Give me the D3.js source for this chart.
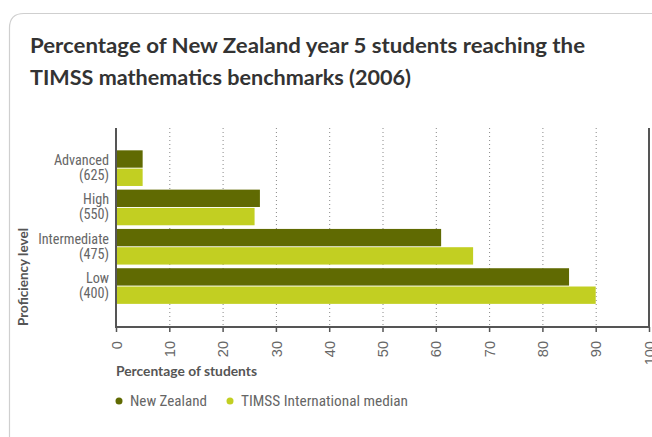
<!DOCTYPE html>
<html><head><meta charset="utf-8">
<script src="https://cdn.jsdelivr.net/npm/d3@7"></script>
<style>
html,body{margin:0;padding:0;background:#fff;}
svg{display:block;font-family:"Roboto Condensed","Liberation Sans Narrow","Roboto",sans-serif;}
.b{font-family:"Lato","Roboto",sans-serif;font-weight:bold;}
</style></head>
<body>
<svg id="c" width="652" height="437"></svg>
<script>
const categories = ["Advanced", "High", "Intermediate", "Low"];
const categoryScores = ["(625)", "(550)", "(475)", "(400)"];
const seriesNames = ["New Zealand", "TIMSS International median"];
const newZealand = [5, 27, 61, 85];
const timssMedian = [5, 26, 67, 90];
const xTicks = [0, 10, 20, 30, 40, 50, 60, 70, 80, 90, 100];
const titleLines = ["Percentage of New Zealand year 5 students reaching the", "TIMSS mathematics benchmarks (2006)"];
const colors = ["#606a02", "#c2cf22"];

(function () {
const svg = d3.select("#c");
function fit(sel, w) {
  sel.each(function () {
    const len = this.getComputedTextLength();
    if (len > 0) d3.select(this).attr("textLength", w).attr("lengthAdjust", "spacingAndGlyphs");
  });
  return sel;
}
// card
svg.append("path")
  .attr("d", "M 9.5 460 L 9.5 28 Q 9.5 13.5 24 13.5 L 700 13.5")
  .attr("fill", "none").attr("stroke", "#cfcfcf").attr("stroke-width", 1.2);

const titleW = [555, 381];
titleLines.forEach((t, i) => {
  const el = svg.append("text").attr("class", "b").attr("x", 30).attr("y", 53 + i * 32)
    .attr("fill", "#333").attr("font-size", 21).text(t);
  fit(el, titleW[i]);
});

const pLeft = 116, pRight = 649, pTop = 128, pBottom = 327;
const x = d3.scaleLinear().domain([0, 100]).range([pLeft, pRight]);
const y = d3.scaleBand().domain(categories).range([148.5, 305.7]).paddingInner(0).paddingOuter(0);
const sub = d3.scaleBand().domain([0, 1]).range([0, y.bandwidth()]).paddingInner(0.05).paddingOuter(0.1);

// grid
svg.append("g").selectAll("line").data(xTicks.filter(d => d > 0 && d < 100)).join("line")
  .attr("x1", d => x(d) + 0.5).attr("x2", d => x(d) + 0.5)
  .attr("y1", pTop).attr("y2", pBottom)
  .attr("stroke", "#888").attr("stroke-width", 1).attr("stroke-dasharray", "1,3");

// bars
const data = categories.map((c, i) => ({c, vals: [newZealand[i], timssMedian[i]]}));
const g = svg.append("g").selectAll("g").data(data).join("g")
  .attr("transform", d => `translate(0,${y(d.c)})`);
g.selectAll("rect").data(d => d.vals.map((v, k) => ({v, k}))).join("rect")
  .attr("x", x(0)).attr("y", d => sub(d.k)).attr("height", sub.bandwidth())
  .attr("width", d => x(d.v) - x(0)).attr("fill", d => colors[d.k]);

// category labels
const labG = svg.append("g").attr("text-anchor", "end").attr("fill", "#666").attr("font-size", 14.2);
labG.selectAll("text.name").data(categories).join("text").attr("class", "name")
  .attr("x", 109).attr("y", d => y(d) + y.bandwidth()/2 - 3).text(d => d);
labG.selectAll("text.score").data(categories).join("text").attr("class", "score")
  .attr("x", 109).attr("y", d => y(d) + y.bandwidth()/2 + 12).text((d, i) => categoryScores[i]);

// axes lines
svg.append("line").attr("x1", pLeft).attr("x2", pLeft).attr("y1", pTop).attr("y2", pBottom + 1)
  .attr("stroke", "#555").attr("stroke-width", 2);
svg.append("line").attr("x1", pRight).attr("x2", pRight).attr("y1", pTop).attr("y2", pBottom + 1)
  .attr("stroke", "#555").attr("stroke-width", 2);

const xAxis = d3.axisBottom(x).tickValues(xTicks).tickSize(5).tickFormat(d3.format("d"));
const ax = svg.append("g").attr("transform", `translate(0,${pBottom})`).call(xAxis);
ax.select(".domain").attr("stroke", "#555").attr("stroke-width", 2).attr("d", `M${pLeft},0H${pRight}`);
ax.selectAll(".tick line").attr("stroke", "#555").attr("stroke-width", 1.5);
ax.selectAll(".tick text").attr("fill", "#666").attr("font-size", 14.6)
  .attr("font-family", "inherit")
  .attr("transform", "rotate(-90)").attr("text-anchor", "end")
  .attr("x", -14).attr("y", 0).attr("dy", "0.35em");

// axis titles
fit(svg.append("text").attr("class", "b").attr("x", 116).attr("y", 376).attr("fill", "#555")
  .attr("font-size", 13.5).text("Percentage of students"), 141);
fit(svg.append("text").attr("class", "b").attr("transform", "translate(28,326) rotate(-90)")
  .attr("fill", "#555").attr("font-size", 13.5).text("Proficiency level"), 98);

// legend
const legX = [119, 230];
const legW = [77, 167];
const leg = svg.append("g").selectAll("g").data(seriesNames).join("g")
  .attr("transform", (d, i) => `translate(${legX[i]},401)`);
leg.append("circle").attr("r", 3.5).attr("fill", (d, i) => colors[i]);
leg.append("text").attr("x", 11).attr("y", 5).attr("fill", "#666").attr("font-size", 14.6).text(d => d)
  .each(function (d, i) { fit(d3.select(this), legW[i]); });
})();
</script>
</body></html>
